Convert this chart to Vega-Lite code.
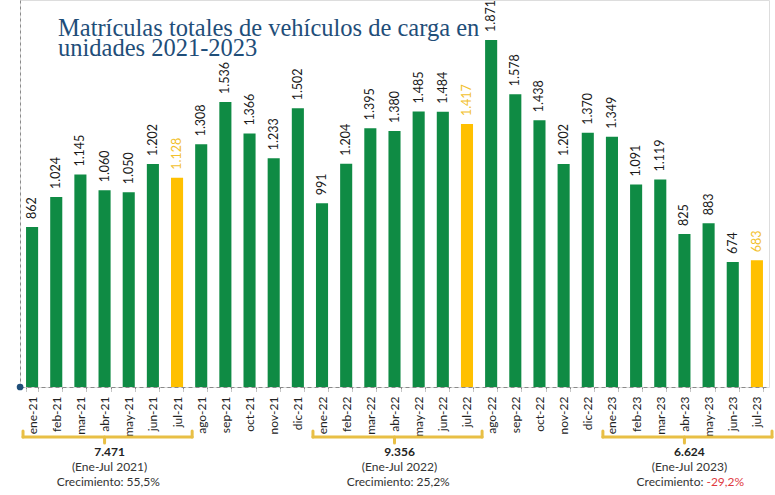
{
  "$schema": "https://vega.github.io/schema/vega-lite/v6.json",
  "description": "Matrículas totales de vehículos de carga 2021-2023",
  "width": 749,
  "height": 387,
  "autosize": "none",
  "padding": {"left": 20, "top": 0, "right": 6, "bottom": 108},
  "background": "white",
  "title": {
    "text": ["Matrículas totales de vehículos de carga en", "unidades 2021-2023"],
    "anchor": "start",
    "frame": "group",
    "font": "Liberation Serif",
    "fontSize": 24.5,
    "fontWeight": "normal",
    "color": "#1F4E79",
    "lineHeight": 20,
    "baseline": "top",
    "offset": 0,
    "dx": 38,
    "dy": 62
  },
  "data": {
    "values": [
      {"mes": "ene-21", "unidades": 862, "etiqueta": "862", "grupo": "mes"},
      {"mes": "feb-21", "unidades": 1024, "etiqueta": "1.024", "grupo": "mes"},
      {"mes": "mar-21", "unidades": 1145, "etiqueta": "1.145", "grupo": "mes"},
      {"mes": "abr-21", "unidades": 1060, "etiqueta": "1.060", "grupo": "mes"},
      {"mes": "may-21", "unidades": 1050, "etiqueta": "1.050", "grupo": "mes"},
      {"mes": "jun-21", "unidades": 1202, "etiqueta": "1.202", "grupo": "mes"},
      {"mes": "jul-21", "unidades": 1128, "etiqueta": "1.128", "grupo": "julio"},
      {"mes": "ago-21", "unidades": 1308, "etiqueta": "1.308", "grupo": "mes"},
      {"mes": "sep-21", "unidades": 1536, "etiqueta": "1.536", "grupo": "mes"},
      {"mes": "oct-21", "unidades": 1366, "etiqueta": "1.366", "grupo": "mes"},
      {"mes": "nov-21", "unidades": 1233, "etiqueta": "1.233", "grupo": "mes"},
      {"mes": "dic-21", "unidades": 1502, "etiqueta": "1.502", "grupo": "mes"},
      {"mes": "ene-22", "unidades": 991, "etiqueta": "991", "grupo": "mes"},
      {"mes": "feb-22", "unidades": 1204, "etiqueta": "1.204", "grupo": "mes"},
      {"mes": "mar-22", "unidades": 1395, "etiqueta": "1.395", "grupo": "mes"},
      {"mes": "abr-22", "unidades": 1380, "etiqueta": "1.380", "grupo": "mes"},
      {"mes": "may-22", "unidades": 1485, "etiqueta": "1.485", "grupo": "mes"},
      {"mes": "jun-22", "unidades": 1484, "etiqueta": "1.484", "grupo": "mes"},
      {"mes": "jul-22", "unidades": 1417, "etiqueta": "1.417", "grupo": "julio"},
      {"mes": "ago-22", "unidades": 1871, "etiqueta": "1.871", "grupo": "mes"},
      {"mes": "sep-22", "unidades": 1578, "etiqueta": "1.578", "grupo": "mes"},
      {"mes": "oct-22", "unidades": 1438, "etiqueta": "1.438", "grupo": "mes"},
      {"mes": "nov-22", "unidades": 1202, "etiqueta": "1.202", "grupo": "mes"},
      {"mes": "dic-22", "unidades": 1370, "etiqueta": "1.370", "grupo": "mes"},
      {"mes": "ene-23", "unidades": 1349, "etiqueta": "1.349", "grupo": "mes"},
      {"mes": "feb-23", "unidades": 1091, "etiqueta": "1.091", "grupo": "mes"},
      {"mes": "mar-23", "unidades": 1119, "etiqueta": "1.119", "grupo": "mes"},
      {"mes": "abr-23", "unidades": 825, "etiqueta": "825", "grupo": "mes"},
      {"mes": "may-23", "unidades": 883, "etiqueta": "883", "grupo": "mes"},
      {"mes": "jun-23", "unidades": 674, "etiqueta": "674", "grupo": "mes"},
      {"mes": "jul-23", "unidades": 683, "etiqueta": "683", "grupo": "julio"}
    ]
  },
  "layer": [
    {
      "encoding": {
        "x": {
          "field": "mes",
          "type": "nominal",
          "sort": null,
          "scale": {
            "domain": ["ene-21", "feb-21", "mar-21", "abr-21", "may-21", "jun-21", "jul-21", "ago-21", "sep-21", "oct-21", "nov-21", "dic-21",
                       "ene-22", "feb-22", "mar-22", "abr-22", "may-22", "jun-22", "jul-22", "ago-22", "sep-22", "oct-22", "nov-22", "dic-22",
                       "ene-23", "feb-23", "mar-23", "abr-23", "may-23", "jun-23", "jul-23"],
            "paddingInner": 0.5,
            "paddingOuter": 0.25
          },
          "axis": {
            "title": null,
            "labelAngle": -90,
            "labelFont": "Lato",
            "labelFontSize": 12,
            "labelColor": "#222222",
            "labelPadding": 5,
            "domainColor": "#8a8a8a",
            "domainDash": [4, 3],
            "tickColor": "#8a8a8a",
            "tickSize": 4,
            "tickBand": "extent",
            "tickDash": [2, 1]
          }
        },
        "y": {
          "field": "unidades",
          "type": "quantitative",
          "scale": {"domain": [0, 2086], "nice": false},
          "axis": {
            "title": null,
            "labels": false,
            "ticks": false,
            "grid": false,
            "domainColor": "#8a8a8a",
            "domainDash": [3, 3]
          }
        }
      },
      "layer": [
        {
          "mark": {"type": "bar"},
          "encoding": {
            "color": {
              "field": "grupo",
              "type": "nominal",
              "scale": {"domain": ["mes", "julio"], "range": ["#0F8B44", "#FFC000"]},
              "legend": null
            }
          }
        },
        {
          "mark": {"type": "text", "angle": 270, "align": "left", "baseline": "middle", "dx": 8, "font": "Lato", "fontSize": 12.5},
          "encoding": {
            "text": {"field": "etiqueta"},
            "color": {
              "field": "grupo",
              "type": "nominal",
              "scale": {"domain": ["mes", "julio"], "range": ["#1a1a1a", "#F2C12E"]},
              "legend": null
            }
          }
        },
        {
          "transform": [{"filter": "datum.mes === 'ene-21'"}],
          "mark": {"type": "point", "filled": true, "size": 45, "color": "#1F4E79", "opacity": 1, "xOffset": -12},
          "encoding": {"y": {"datum": 0, "type": "quantitative"}}
        }
      ],
      "resolve": {"scale": {"color": "independent"}}
    },
    {
      "data": {
        "values": [
          {"inicio": "ene-21", "centro": "abr-21", "fin": "jul-21", "total": "7.471", "periodo": "(Ene-Jul 2021)", "rotulo": "Crecimiento:", "crecimiento": "55,5%", "signo": "positivo"},
          {"inicio": "ene-22", "centro": "abr-22", "fin": "jul-22", "total": "9.356", "periodo": "(Ene-Jul 2022)", "rotulo": "Crecimiento:", "crecimiento": "25,2%", "signo": "positivo"},
          {"inicio": "ene-23", "centro": "abr-23", "fin": "jul-23", "total": "6.624", "periodo": "(Ene-Jul 2023)", "rotulo": "Crecimiento:", "crecimiento": "-29,2%", "signo": "negativo"}
        ]
      },
      "layer": [
        {
          "mark": {"type": "rule", "color": "#E8BF45", "strokeWidth": 3, "strokeCap": "round"},
          "encoding": {
            "x": {"field": "inicio", "type": "nominal", "bandPosition": -0.25},
            "x2": {"field": "fin", "bandPosition": 1.75},
            "y": {"datum": "llave", "type": "nominal", "scale": {"type": "point", "domain": ["llave", "total", "periodo", "crec"], "range": [437, 482], "padding": 0}, "axis": null}
          }
        },
        {
          "mark": {"type": "rule", "color": "#E8BF45", "strokeWidth": 3, "strokeCap": "round", "y2Offset": -6},
          "encoding": {
            "x": {"field": "inicio", "type": "nominal", "bandPosition": -0.25},
            "y": {"datum": "llave", "type": "nominal"},
            "y2": {"datum": "llave"}
          }
        },
        {
          "mark": {"type": "rule", "color": "#E8BF45", "strokeWidth": 3, "strokeCap": "round", "y2Offset": -6},
          "encoding": {
            "x": {"field": "fin", "type": "nominal", "bandPosition": 1.75},
            "y": {"datum": "llave", "type": "nominal"},
            "y2": {"datum": "llave"}
          }
        },
        {
          "mark": {"type": "rule", "color": "#E8BF45", "strokeWidth": 3, "strokeCap": "round", "y2Offset": 6},
          "encoding": {
            "x": {"field": "centro", "type": "nominal"},
            "y": {"datum": "llave", "type": "nominal"},
            "y2": {"datum": "llave"}
          }
        },
        {
          "mark": {"type": "text", "font": "Lato", "fontSize": 12, "fontWeight": "bold", "color": "#222222", "dx": 5},
          "encoding": {
            "x": {"field": "centro", "type": "nominal"},
            "y": {"datum": "total", "type": "nominal"},
            "text": {"field": "total"}
          }
        },
        {
          "mark": {"type": "text", "font": "Lato", "fontSize": 12, "color": "#333333", "dx": 5},
          "encoding": {
            "x": {"field": "centro", "type": "nominal"},
            "y": {"datum": "periodo", "type": "nominal"},
            "text": {"field": "periodo"}
          }
        },
        {
          "mark": {"type": "text", "font": "Lato", "fontSize": 12, "color": "#333333", "align": "right", "dx": 19},
          "encoding": {
            "x": {"field": "centro", "type": "nominal"},
            "y": {"datum": "crec", "type": "nominal"},
            "text": {"field": "rotulo"}
          }
        },
        {
          "mark": {"type": "text", "font": "Lato", "fontSize": 12, "align": "left", "dx": 22},
          "encoding": {
            "x": {"field": "centro", "type": "nominal"},
            "y": {"datum": "crec", "type": "nominal"},
            "text": {"field": "crecimiento"},
            "color": {
              "field": "signo",
              "type": "nominal",
              "scale": {"domain": ["positivo", "negativo"], "range": ["#333333", "#E0393E"]},
              "legend": null
            }
          }
        }
      ]
    }
  ],
  "resolve": {"scale": {"y": "independent", "color": "independent"}, "axis": {"y": "independent"}}
}
